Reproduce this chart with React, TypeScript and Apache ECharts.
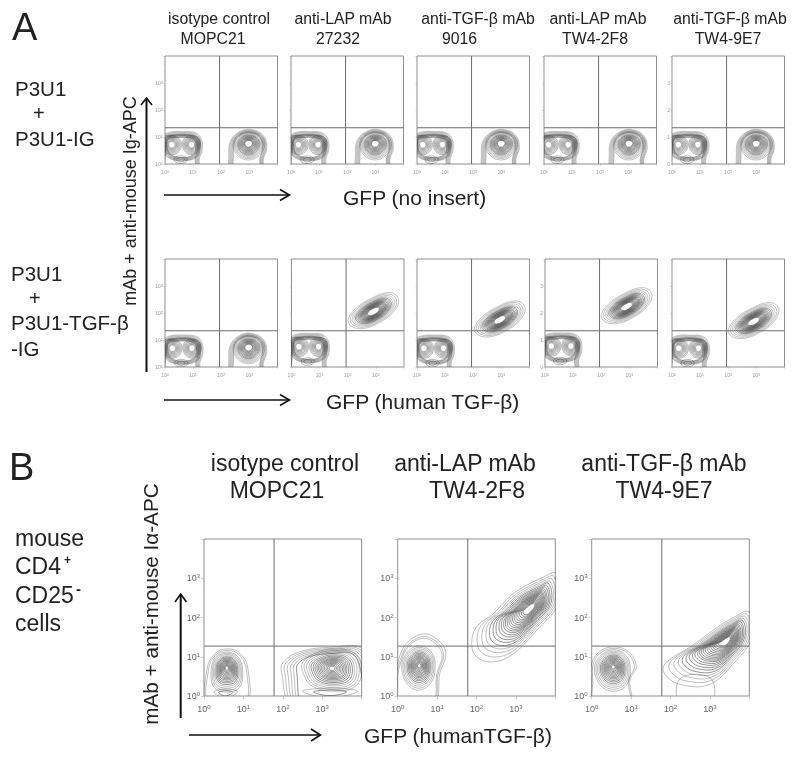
import React, { useEffect, useRef } from "react";
import * as echarts from "echarts";

type Pt = number[];
type Pop = { o: Pt[]; c: Pt; l: number[]; foot?: boolean; a?: number };

// tick exponents and contour levels (fraction of the outer contour)
const tickMax = 10000;
const rim = [1, 0.95, 0.9, 0.85, 0.8, 0.76];
const full = [1, 0.92, 0.84, 0.77, 0.71, 0.66, 0.61, 0.57, 0.53, 0.5, 0.47, 0.44, 0.41, 0.38, 0.35, 0.32, 0.29, 0.26, 0.23];
const ring = [1, 0.88, 0.77, 0.67, 0.58, 0.5, 0.42, 0.34];
const hole = [1, 0.92, 0.85, 0.78, 0.71, 0.65, 0.59, 0.53, 0.48, 0.43, 0.38, 0.33, 0.28, 0.24];
const small = [1, 0.6];
const bTomb = [1, 0.94, 0.88, 0.82, 0.76, 0.7];
const bFull = [1, 0.91, 0.83, 0.76, 0.7, 0.64, 0.59, 0.54, 0.5, 0.46, 0.43, 0.4, 0.37, 0.34, 0.31, 0.28, 0.25, 0.22, 0.19, 0.16, 0.13];
const bRing = [1, 0.92, 0.84, 0.76, 0.69, 0.62, 0.56, 0.5, 0.45, 0.4, 0.35, 0.3, 0.25, 0.2, 0.15, 0.1];

// contour outlines, in decades of fluorescence
const move = (o: Pt[], dx: number, dy: number) => o.map((p) => [p[0] + dx, p[1] + dy]);
const lowOuter: Pt[] = [[-0.1, -0.3], [-0.15, 0.5], [-0.08, 1.0], [0.15, 1.17], [0.65, 1.2], [1.1, 1.15], [1.3, 0.9], [1.32, 0.5], [1.22, 0.2], [1.18, -0.3]];
const lowInner: Pt[] = [[-0.05, 1.0], [0.3, 1.08], [0.9, 1.08], [1.2, 0.95], [1.25, 0.6], [1.12, 0.25], [0.6, 0.12], [0.1, 0.25], [-0.08, 0.6]];
const lowRingA: Pt[] = [[0.24, 1.05], [0.52, 0.92], [0.58, 0.65], [0.45, 0.42], [0.22, 0.35], [0.02, 0.45], [-0.08, 0.7], [0.0, 0.96]];
const lowRingB: Pt[] = [[0.95, 1.05], [1.2, 0.95], [1.25, 0.65], [1.12, 0.42], [0.92, 0.35], [0.72, 0.45], [0.62, 0.72], [0.7, 0.96]];
const footRing: Pt[] = [[0.55, 0.3], [0.75, 0.24], [0.78, 0.12], [0.58, 0.02], [0.36, 0.08], [0.34, 0.22]];
const highOuter: Pt[] = [[2.38, -0.3], [2.27, 0.4], [2.35, 0.9], [2.7, 1.22], [3.1, 1.27], [3.5, 1.05], [3.62, 0.6], [3.5, 0.2], [3.45, -0.3]];
const highRing: Pt[] = [[2.97, 1.2], [3.4, 1.06], [3.55, 0.72], [3.35, 0.32], [2.97, 0.15], [2.58, 0.32], [2.42, 0.72], [2.58, 1.06]];
const diag: Pt[] = [[2.03, 1.62], [2.2, 2.08], [2.85, 2.55], [3.5, 2.76], [3.8, 2.54], [3.7, 2.14], [3.25, 1.72], [2.5, 1.42]];
const b1Left: Pt[] = [[0.1, -0.2], [0.08, 0.7], [0.28, 1.08], [0.58, 1.2], [0.91, 1.09], [1.12, 0.66], [1.06, -0.2]];
const b1LeftIn: Pt[] = [[0.58, 1.12], [0.86, 1.0], [0.98, 0.65], [0.9, 0.22], [0.58, 0.1], [0.26, 0.22], [0.18, 0.65], [0.3, 1.0]];
const b1Foot: Pt[] = [[0.55, 0.18], [0.85, 0.1], [0.55, -0.04], [0.25, 0.1]];
const b1Right: Pt[] = [[2.25, -0.2], [1.97, 0.6], [2.01, 0.86], [2.44, 1.13], [3.2, 1.24], [4.0, 1.22], [4.3, 0.6], [4.3, -0.2]];
const b1RightIn: Pt[] = [[2.5, 0.85], [2.85, 1.1], [3.3, 1.2], [3.8, 1.1], [4.0, 0.7], [3.85, 0.25], [3.25, 0.12], [2.75, 0.25], [2.55, 0.5]];
const b1RightFoot: Pt[] = [[3.2, 0.2], [3.9, 0.12], [3.2, -0.04], [2.5, 0.12]];
const b2Left: Pt[] = [[-0.1, 0.4], [0.02, 0.92], [0.23, 1.34], [0.65, 1.58], [1.03, 1.42], [1.22, 1.08], [1.07, 0.58], [0.92, -0.2], [0.02, -0.2]];
const b2LeftIn: Pt[] = [[0.55, 1.28], [0.85, 1.12], [0.95, 0.78], [0.85, 0.35], [0.55, 0.15], [0.25, 0.3], [0.1, 0.75], [0.25, 1.12]];
const b2Diag: Pt[] = [[1.88, 1.34], [2.0, 1.76], [2.43, 2.1], [2.94, 2.61], [3.7, 3.03], [4.03, 3.12], [4.1, 2.4], [3.53, 1.68], [2.94, 1.08], [2.43, 0.87], [2.0, 1.0]];
const b3Left: Pt[] = [[0, 0.83], [0.2, 1.13], [0.55, 1.25], [0.93, 1.13], [1.13, 0.75], [0.97, 0.41], [0.97, -0.2], [0.04, -0.2], [-0.02, 0.4]];
const b3LeftIn: Pt[] = [[0.55, 1.18], [0.85, 1.05], [0.98, 0.72], [0.88, 0.28], [0.55, 0.12], [0.22, 0.28], [0.07, 0.72], [0.25, 1.05]];
const b3Diag: Pt[] = [[1.82, 0.75], [2.08, 1], [2.5, 1.25], [3.09, 1.68], [3.6, 2], [4, 2.14], [4.07, 1.5], [3.6, 0.83], [3, 0.3], [2.3, 0.28], [1.9, 0.5]];
const b3Foot: Pt[] = [[2.25, 0.45], [3.02, 0.45], [3.02, -0.2], [2.25, -0.2]];

const lowPair = (dx = 0, dy = 0): Pop[] => [
  { o: move(lowOuter, dx, dy), c: [0.6 + dx, 0.6 + dy], l: rim, foot: true },
  { o: move(lowInner, dx, dy), c: [0.6 + dx, 0.62 + dy], l: rim, a: 0.55 },
  { o: move(lowRingA, dx, dy), c: [0.24 + dx, 0.72 + dy], l: ring, a: 0.55 },
  { o: move(lowRingB, dx, dy), c: [0.94 + dx, 0.72 + dy], l: ring, a: 0.55 },
  { o: move(footRing, dx, dy), c: [0.56 + dx, 0.16 + dy], l: small, a: 0.55 },
];
const high = (dx = 0, dy = 0): Pop[] => [
  { o: move(highOuter, dx, dy), c: [2.97 + dx, 0.77 + dy], l: rim, foot: true },
  { o: move(highRing, dx, dy), c: [2.97 + dx, 0.77 + dy], l: hole },
];
const diagPop = (dx: number, dy: number): Pop[] => [{ o: move(diag, dx, dy), c: [2.91 + dx, 2.05 + dy], l: full }];

// one entry per panel: grid box key, y label style, contours
const rowOne = [
  { left: 165, y: "full", pops: [...lowPair(), ...high()] },
  { left: 291, y: "none", pops: [...lowPair(0.02), ...high(0.02)] },
  { left: 417, y: "none", pops: [...lowPair(-0.04), ...high(0.02)] },
  { left: 544, y: "none", pops: [...lowPair(-0.08), ...high(0.05)] },
  { left: 672, y: "digit", pops: [...lowPair(-0.02), ...high(0.02)] },
];
const rowTwo = [
  { left: 165, y: "full", pops: [...lowPair(0.02, -0.02), ...high(0, -0.03)] },
  { left: 291.5, y: "none", pops: [...lowPair(0.02, 0.04), ...diagPop(0, 0)] },
  { left: 417, y: "none", pops: [...lowPair(0.0, -0.02), ...diagPop(0.03, -0.31)] },
  { left: 545, y: "digit", pops: [...lowPair(-0.02, 0.06), ...diagPop(-0.01, 0.18)] },
  { left: 672, y: "none", pops: [...lowPair(0.0, -0.02), ...diagPop(-0.01, -0.37)] },
];
const rowB: { left: number; pops: Pop[] }[] = [
  { left: 204, pops: [
    { o: b1Left, c: [0.58, 0.72], l: [1, 0.92], foot: true },
    { o: b1LeftIn, c: [0.58, 0.72], l: bRing },
    { o: b1Foot, c: [0.55, 0.07], l: small },
    { o: b1Right, c: [3.25, 0.71], l: bTomb, foot: true },
    { o: b1RightIn, c: [3.25, 0.71], l: bRing },
    { o: b1RightFoot, c: [3.2, 0.08], l: small },
  ] },
  { left: 397.7, pops: [
    { o: b2Left, c: [0.55, 0.78], l: [1, 0.92, 0.86], foot: true },
    { o: b2LeftIn, c: [0.55, 0.78], l: bRing },
    { o: b2Diag, c: [3.38, 2.25], l: bFull },
  ] },
  { left: 591.7, pops: [
    { o: b3Left, c: [0.55, 0.75], l: [1, 0.92], foot: true },
    { o: b3LeftIn, c: [0.55, 0.75], l: bRing },
    { o: b3Diag, c: [3.43, 1.42], l: bFull },
    { o: b3Foot, c: [2.63, 0.1], l: [1] },
  ] },
];
const gateA = { x: 87, y: 22 };
const gateB = { x: 60, y: 18.7 };

const topTitles = [
  ["isotype control", 219, "MOPC21", 213],
  ["anti-LAP mAb", 343, "27232", 338],
  ["anti-TGF-β mAb", 478, "9016", 459.5],
  ["anti-LAP mAb", 598, "TW4-2F8", 595],
  ["anti-TGF-β mAb", 730, "TW4-9E7", 728],
];
const bTitles = [
  ["isotype control", 285, "MOPC21", 277],
  ["anti-LAP mAb", 465, "TW4-2F8", 477],
  ["anti-TGF-β mAb", 664, "TW4-9E7", 664],
];

function buildOption() {
  const grid: any[] = [];
  const xAxis: any[] = [];
  const yAxis: any[] = [];
  const series: any[] = [];

  const addPanel = (left: number, top: number, w: number, h: number, pops: Pop[], yMode: string, gate: { x: number; y: number }, big: boolean) => {
    const i = grid.length;
    grid.push({ left, top, width: w, height: h, show: true, borderColor: "#8f8f8f", borderWidth: 1, backgroundColor: "transparent" });
    const labelStyle = big
      ? { b: { fontSize: 9, color: "#666", fontFamily: "Liberation Sans" }, s: { fontSize: 6, color: "#666", verticalAlign: "top", fontFamily: "Liberation Sans", padding: [0, 0, 4, 0] } }
      : { b: { fontSize: 5, color: "#999", fontFamily: "Liberation Sans" }, s: { fontSize: 4, color: "#999", verticalAlign: "top", fontFamily: "Liberation Sans", padding: [0, 0, 2, 0] } };
    const fmt = (mode: string) => (v: number) => {
      if (v >= tickMax) return "";
      const e = Math.round(Math.log10(v));
      if (mode === "none") return "";
      if (mode === "digit") return `{b|${e}}`;
      return `{b|10}{s|${e}}`;
    };
    const common = {
      type: "log", logBase: 10, min: 1, max: tickMax, gridIndex: i, splitLine: { show: false },
      axisLine: { show: false },
      axisTick: { show: true, length: big ? 3 : 1.5, lineStyle: { color: "#aaa", width: 0.6 } },
      minorTick: { show: true, splitNumber: 5, length: 1.2, lineStyle: { color: "#bbb", width: 0.5 } },
    };
    xAxis.push({ ...common, axisLabel: { margin: big ? 8 : 5, formatter: fmt("full"), rich: labelStyle, showMaxLabel: false } });
    yAxis.push({ ...common, axisLabel: { margin: big ? 4 : 2, formatter: fmt(yMode), rich: labelStyle, showMaxLabel: false } });

    const rows: number[][] = [];
    pops.forEach((p, pi) => p.l.forEach((k) => rows.push([pi, k, Math.pow(10, p.c[0]), Math.pow(10, p.c[1])])));
    series.push({
      type: "custom", xAxisIndex: i, yAxisIndex: i, clip: true, silent: true,
      encode: { x: 2, y: 3 },
      data: rows,
      renderItem: (_: any, api: any) => {
        const p = pops[api.value(0)];
        const k = api.value(1);
        const points = p.o.map((q) => {
          // the outer contours of populations cut by the axis stay open at the bottom
          const ky = p.foot && q[1] < p.c[1] ? 1 : k;
          return api.coord([
            Math.pow(10, p.c[0] + k * (q[0] - p.c[0])),
            Math.pow(10, p.c[1] + ky * (q[1] - p.c[1])),
          ]);
        });
        const alpha = p.a ?? (k > 0.75 ? 0.45 : 0.75);
        return { type: "polygon", shape: { points, smooth: 0.4 }, style: { fill: "none", stroke: `rgba(50,50,50,${alpha})`, lineWidth: big ? 0.7 : 0.65 } };
      },
    });
    const gateStyle = { color: "#6e6e6e", width: 1 };
    series.push({ type: "line", xAxisIndex: i, yAxisIndex: i, showSymbol: false, silent: true, lineStyle: gateStyle, data: [[gate.x, 1], [gate.x, tickMax]] });
    series.push({ type: "line", xAxisIndex: i, yAxisIndex: i, showSymbol: false, silent: true, lineStyle: gateStyle, data: [[1, gate.y], [tickMax, gate.y]] });
  };

  rowOne.forEach((p) => addPanel(p.left, 56, 112.5, 108, p.pops, p.y, gateA, false));
  rowTwo.forEach((p) => addPanel(p.left, 259, 112.5, 108, p.pops, p.y, gateA, false));
  rowB.forEach((p) => addPanel(p.left, 539, 157.6, 157, p.pops, "full", gateB, true));

  const T = (text: string, x: number, y: number, size: number, extra: any = {}) => ({
    type: "text", x, y, silent: true,
    style: { text, fontFamily: "Liberation Sans", fontSize: size, fill: "#222", textAlign: "left", textVerticalAlign: "middle", ...extra },
  });
  const L = (x1: number, y1: number, x2: number, y2: number, w = 2) => ({
    type: "line", silent: true, shape: { x1, y1, x2, y2 }, style: { stroke: "#111", lineWidth: w },
  });
  const H = (points: number[][], w = 1.6) => ({
    type: "polyline", silent: true, shape: { points }, style: { stroke: "#111", lineWidth: w, fill: "none" },
  });

  const g: any[] = [
    T("A", 12, 27, 38),
    T("B", 9, 467, 38),
    T("P3U1", 15, 88, 20.5),
    T("+", 33, 113, 20),
    T("P3U1-IG", 15, 138, 20.5),
    T("P3U1", 11, 273, 20.5),
    T("+", 29, 298, 20),
    T("P3U1-TGF-β", 11, 322, 20.5),
    T("-IG", 11, 348, 20.5),
    T("mouse", 15, 538, 23),
    T("CD4", 15, 566, 23),
    T("+", 64, 560, 12, { fontWeight: "bold" }),
    T("CD25", 15, 595, 23),
    T("-", 76, 588, 15, { fontWeight: "bold" }),
    T("cells", 15, 623, 23),
    T("GFP (no insert)", 343, 197, 21),
    T("GFP (human TGF-β)", 326, 401, 21),
    T("GFP (humanTGF-β)", 364, 735, 21),
    { type: "text", x: 130, y: 201, rotation: Math.PI / 2, silent: true, style: { text: "mAb + anti-mouse Ig-APC", fontFamily: "Liberation Sans", fontSize: 18, fill: "#222", textAlign: "center", textVerticalAlign: "middle" } },
    { type: "text", x: 150, y: 604, rotation: Math.PI / 2, silent: true, style: { text: "mAb + anti-mouse Iα-APC", fontFamily: "Liberation Sans", fontSize: 20.7, fill: "#222", textAlign: "center", textVerticalAlign: "middle" } },
    L(146.5, 372, 146.5, 98, 2),
    H([[141, 105], [146.5, 98], [152, 105]]),
    L(164, 195, 289, 195, 1.6),
    H([[280, 189.5], [289.5, 195], [280, 200.5]]),
    L(164, 400, 289, 400, 1.6),
    H([[280, 394.5], [289.5, 400], [280, 405.5]]),
    L(180.7, 718, 180.7, 594, 2),
    H([[175, 602], [180.7, 594], [186.5, 602]]),
    L(189, 735, 320, 735, 1.6),
    H([[311, 729], [320.5, 735], [311, 741]]),
  ];
  topTitles.forEach((t) => {
    g.push(T(String(t[0]), Number(t[1]), 18.5, 15.8, { textAlign: "center" }));
    g.push(T(String(t[2]), Number(t[3]), 38, 15.8, { textAlign: "center" }));
  });
  bTitles.forEach((t) => {
    g.push(T(String(t[0]), Number(t[1]), 463, 23, { textAlign: "center" }));
    g.push(T(String(t[2]), Number(t[3]), 490, 23, { textAlign: "center" }));
  });

  return { animation: false, backgroundColor: "#fff", grid, xAxis, yAxis, series, graphic: { elements: g } };
}

export default function App() {
  const ref = useRef<HTMLDivElement>(null);
  useEffect(() => {
    document.body.style.margin = "0";
    const chart = echarts.init(ref.current!, undefined, { renderer: "svg" });
    chart.setOption(buildOption() as any);
    return () => chart.dispose();
  }, []);
  return <div ref={ref} style={{ width: 800, height: 761, filter: "blur(0.5px)" }} />;
}
